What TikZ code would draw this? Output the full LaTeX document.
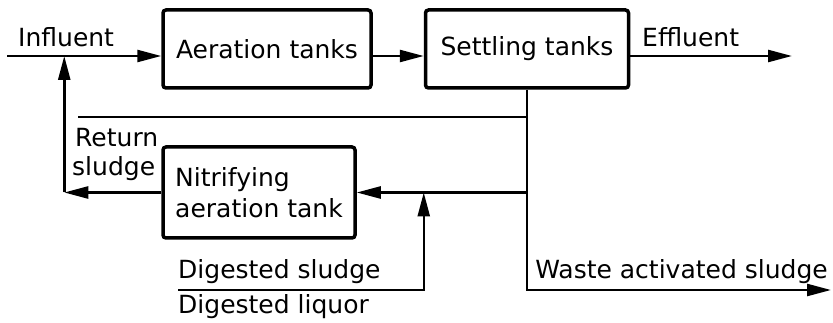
\documentclass[tikz,border=0pt]{standalone}
\usepackage{fontspec}
\setmainfont{DejaVu Sans}
\usetikzlibrary{arrows.meta}

\begin{document}
\begin{tikzpicture}[x=1pt,y=-1pt,>={Triangle[length=24pt,width=12pt]},
  box/.style={draw,line width=3.5pt,rounded corners=3pt,inner sep=0pt},
  flow/.style={line width=2.5pt},
  lbl/.style={font=\fontsize{25}{31}\selectfont,inner sep=0pt}]
\useasboundingbox (0,0) rectangle (833,323);
% tanks
\node[box,lbl,minimum width=208pt,minimum height=78pt] (aer) at (267,49) {Aeration tanks};
\node[box,lbl,minimum width=203pt,minimum height=78pt] (set) at (527,49) {Settling tanks};
\node[box,lbl,align=left,minimum width=192pt,minimum height=91pt] (nit) at (259,192.5) {Nitrifying\\aeration tank};
% main line
\coordinate (in) at (7,56);
\coordinate (eff) at (792,56);
\coordinate (waste) at (831,290);
\draw[flow,->] (in)--(in -| aer.west);
\draw[flow,->] (aer.east |- in)--(set.west |- in);
\draw[flow,->] (set.east |- eff)--(eff);
\draw[flow,->] (set.south)|-(waste);
% return sludge
\coordinate (ret) at (78,117);
\draw[flow] (set.south |- ret)--(ret);
\draw[flow,->] (set.south |- nit.east)--(nit.east);
\path (nit.east) ++(67,0) coordinate (mix);
\coordinate (dig) at (178,290);
\draw[flow,->] (dig)-|(mix);
\path (nit.west) ++(-97,0) coordinate (bend);
\draw[flow,->] (nit.west)--(bend);
\draw[flow,->] (bend)--(bend |- in);
% labels
\node[lbl,anchor=base west] (inlbl) at (18,47) {Influent};
\node[lbl,anchor=base west] (efflbl) at (642,47) {Effluent};
\node[lbl,anchor=base west] (retlbl) at (75,147) {Return};
\node[lbl,anchor=base west] (slulbl) at (72,176) {sludge};
\node[lbl,anchor=base west] (dslbl) at (178,279) {Digested sludge};
\node[lbl,anchor=base west] (dllbl) at (178,313) {Digested liquor};
\node[lbl,anchor=base east] (walbl) at (828,279) {Waste activated sludge};
\end{tikzpicture}
\end{document}
